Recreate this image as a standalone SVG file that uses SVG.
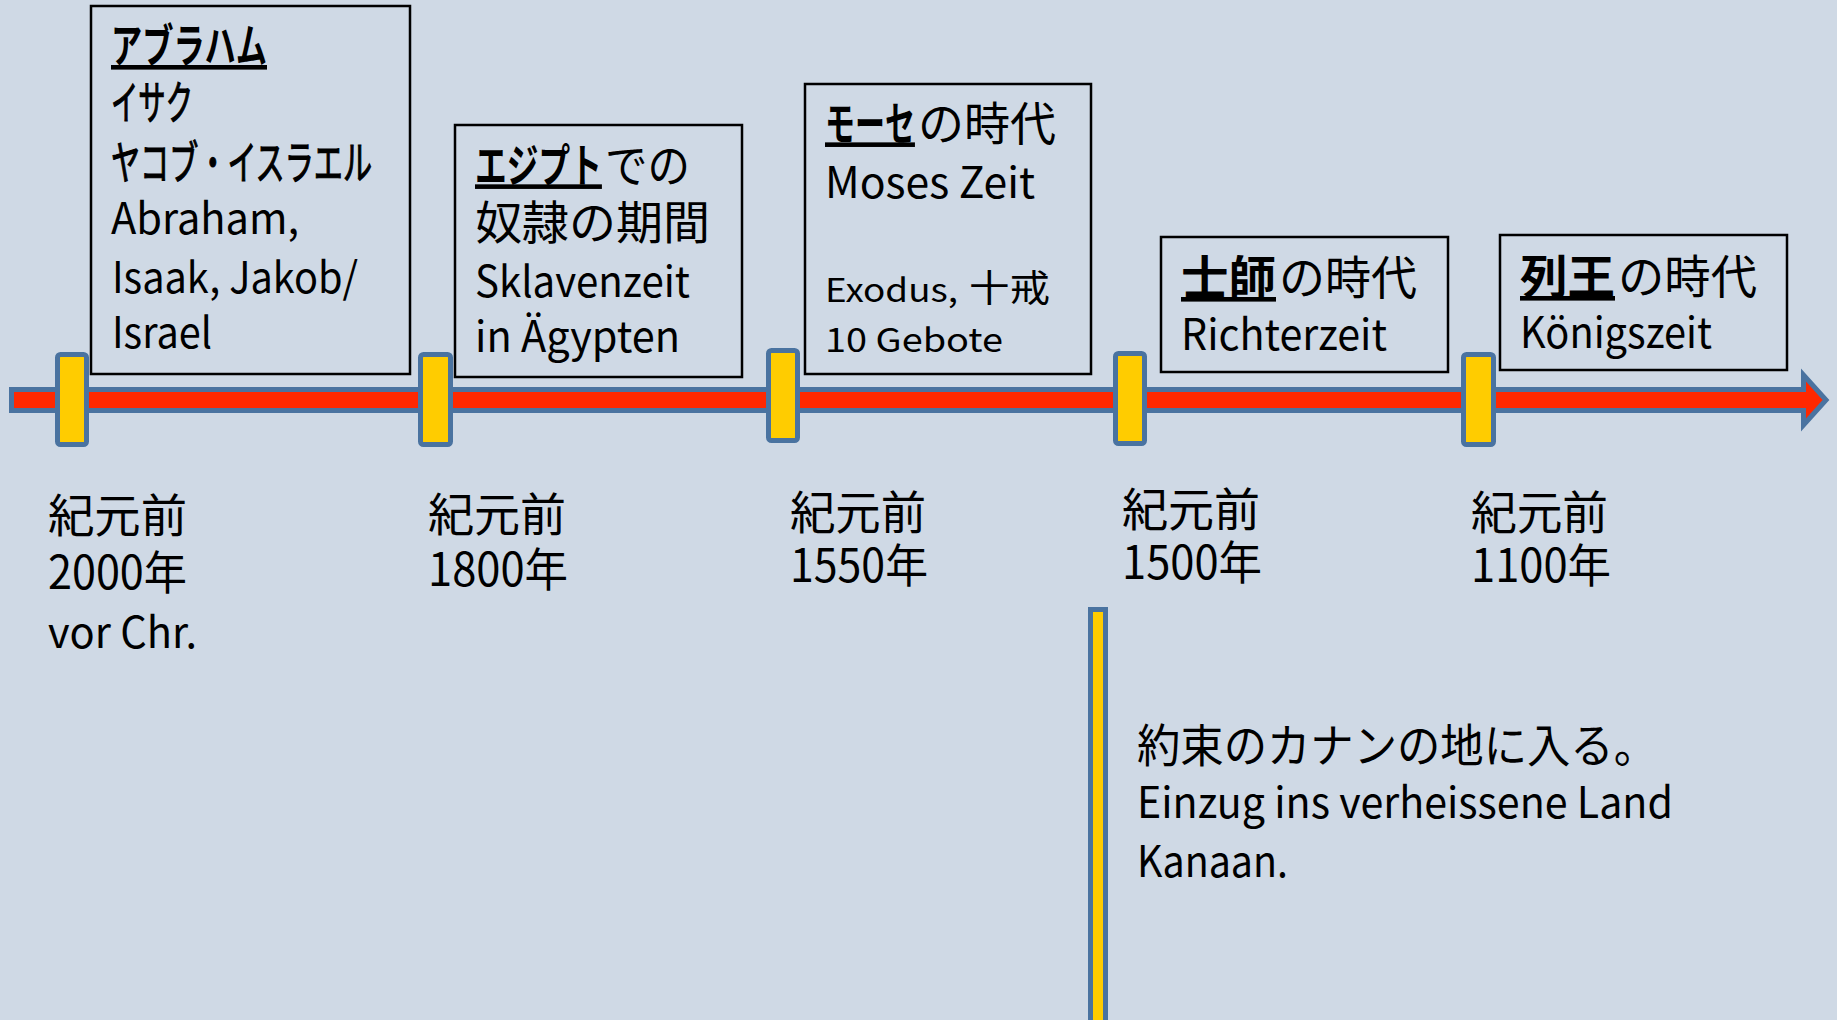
<svg xmlns="http://www.w3.org/2000/svg" width="1837" height="1020" viewBox="0 0 1837 1020">
<style>
text { font-family: "Noto Sans CJK JP", "Noto Sans", sans-serif; font-size: 46px; fill: #000; }
.l { font-size: 43px; }
.k { stroke: #000; stroke-width: 1.2; }
.b { font-weight: 700; }
.u { text-decoration: underline; }
.s { font-size: 33px; }
.sj { font-size: 37px; }
.box { fill: none; stroke: #000; stroke-width: 2.5; }
.mk { fill: #ffcc00; stroke: #4a73a0; stroke-width: 5; }
</style>
<rect x="0" y="0" width="1837" height="1020" fill="#cfd9e5"/>

<g id="connectors">
  <polygon id="timeline" points="11.5,389.5 1803.5,389.5 1803.5,375 1826,400 1803.5,425 1803.5,410.5 11.5,410.5" fill="#ff2800" stroke="#4a73a0" stroke-width="5" stroke-linejoin="miter"/>
  <rect id="entry-bar" x="1090.5" y="609.5" width="15" height="420" class="mk"/>
</g>

<g id="markers">
  <rect id="m2000" x="57.5" y="354.5" width="29" height="90" rx="3" class="mk"/>
  <rect id="m1800" x="420.5" y="354.5" width="30" height="90" rx="3" class="mk"/>
  <rect id="m1550" x="768.5" y="350.5" width="29" height="90" rx="3" class="mk"/>
  <rect id="m1500" x="1115.5" y="353.5" width="29" height="90" rx="3" class="mk"/>
  <rect id="m1100" x="1463.5" y="354.5" width="30" height="90" rx="3" class="mk"/>
</g>

<g id="box-abraham">
  <rect class="box" x="91" y="6" width="319" height="368"/>
  <text class="b u" x="111" y="62" textLength="156" lengthAdjust="spacingAndGlyphs">アブラハム</text>
  <text class="k" x="111" y="119" textLength="82" lengthAdjust="spacingAndGlyphs">イサク</text>
  <text class="k" x="111" y="179" textLength="261" lengthAdjust="spacingAndGlyphs">ヤコブ・イスラエル</text>
  <text class="l" x="111" y="234" textLength="188" lengthAdjust="spacingAndGlyphs">Abraham,</text>
  <text class="l" x="112" y="293" textLength="246" lengthAdjust="spacingAndGlyphs">Isaak, Jakob/</text>
  <text class="l" x="112" y="348" textLength="100" lengthAdjust="spacingAndGlyphs">Israel</text>
</g>

<g id="box-egypt">
  <rect class="box" x="455" y="125" width="287" height="252"/>
  <text class="b u" transform="matrix(0.69,0,0,1,475,182)">エジプト</text>
  <text transform="matrix(0.924,0,0,1,605,182)">での</text>
  <text x="475" y="239" textLength="235" lengthAdjust="spacingAndGlyphs">奴隷の期間</text>
  <text class="l" x="475" y="297" textLength="215" lengthAdjust="spacingAndGlyphs">Sklavenzeit</text>
  <text class="l" x="475" y="352" textLength="205" lengthAdjust="spacingAndGlyphs">in Ägypten</text>
</g>

<g id="box-moses">
  <rect class="box" x="805" y="84" width="286" height="290"/>
  <text class="b u" transform="matrix(0.652,0,0,1,825,140)">モーセ</text>
  <text x="918" y="140">の時代</text>
  <text class="l" x="825" y="198" textLength="210" lengthAdjust="spacingAndGlyphs">Moses Zeit</text>
  <text class="s" x="825" y="302" textLength="133" lengthAdjust="spacingAndGlyphs">Exodus,</text>
  <text class="sj" x="969" y="302" textLength="81" lengthAdjust="spacingAndGlyphs">十戒</text>
  <text class="s" x="825" y="352" textLength="178" lengthAdjust="spacingAndGlyphs">10 Gebote</text>
</g>

<g id="box-richter">
  <rect class="box" x="1161" y="237" width="287" height="135"/>
  <text class="b u" x="1181" y="294" textLength="95" lengthAdjust="spacingAndGlyphs">士師</text>
  <text x="1279" y="294" textLength="138" lengthAdjust="spacingAndGlyphs">の時代</text>
  <text class="l" x="1181" y="350" textLength="206" lengthAdjust="spacingAndGlyphs">Richterzeit</text>
</g>

<g id="box-koenige">
  <rect class="box" x="1500" y="235" width="287" height="135"/>
  <text class="b u" x="1520" y="293" textLength="95" lengthAdjust="spacingAndGlyphs">列王</text>
  <text x="1618" y="293" textLength="139" lengthAdjust="spacingAndGlyphs">の時代</text>
  <text class="l" x="1520" y="348" textLength="192" lengthAdjust="spacingAndGlyphs">Königszeit</text>
</g>

<g id="label-2000">
  <text x="48" y="532" textLength="139" lengthAdjust="spacingAndGlyphs">紀元前</text>
  <text x="48" y="589" textLength="139" lengthAdjust="spacingAndGlyphs">2000年</text>
  <text class="l" x="48" y="648" textLength="149" lengthAdjust="spacingAndGlyphs">vor Chr.</text>
</g>
<g id="label-1800">
  <text x="428" y="531" textLength="138" lengthAdjust="spacingAndGlyphs">紀元前</text>
  <text x="428" y="586" textLength="140" lengthAdjust="spacingAndGlyphs">1800年</text>
</g>
<g id="label-1550">
  <text x="790" y="529" textLength="136" lengthAdjust="spacingAndGlyphs">紀元前</text>
  <text x="790" y="582" textLength="138" lengthAdjust="spacingAndGlyphs">1550年</text>
</g>
<g id="label-1500">
  <text x="1122" y="526" textLength="138" lengthAdjust="spacingAndGlyphs">紀元前</text>
  <text x="1122" y="579" textLength="140" lengthAdjust="spacingAndGlyphs">1500年</text>
</g>
<g id="label-1100">
  <text x="1471" y="529" textLength="137" lengthAdjust="spacingAndGlyphs">紀元前</text>
  <text x="1471" y="582" textLength="140" lengthAdjust="spacingAndGlyphs">1100年</text>
</g>

<g id="kanaan">
  <text x="1137" y="762" textLength="520" lengthAdjust="spacingAndGlyphs">約束のカナンの地に入る。</text>
  <text class="l" x="1137" y="818" textLength="536" lengthAdjust="spacingAndGlyphs">Einzug ins verheissene Land</text>
  <text class="l" x="1137" y="877" textLength="151" lengthAdjust="spacingAndGlyphs">Kanaan.</text>
</g>
</svg>
